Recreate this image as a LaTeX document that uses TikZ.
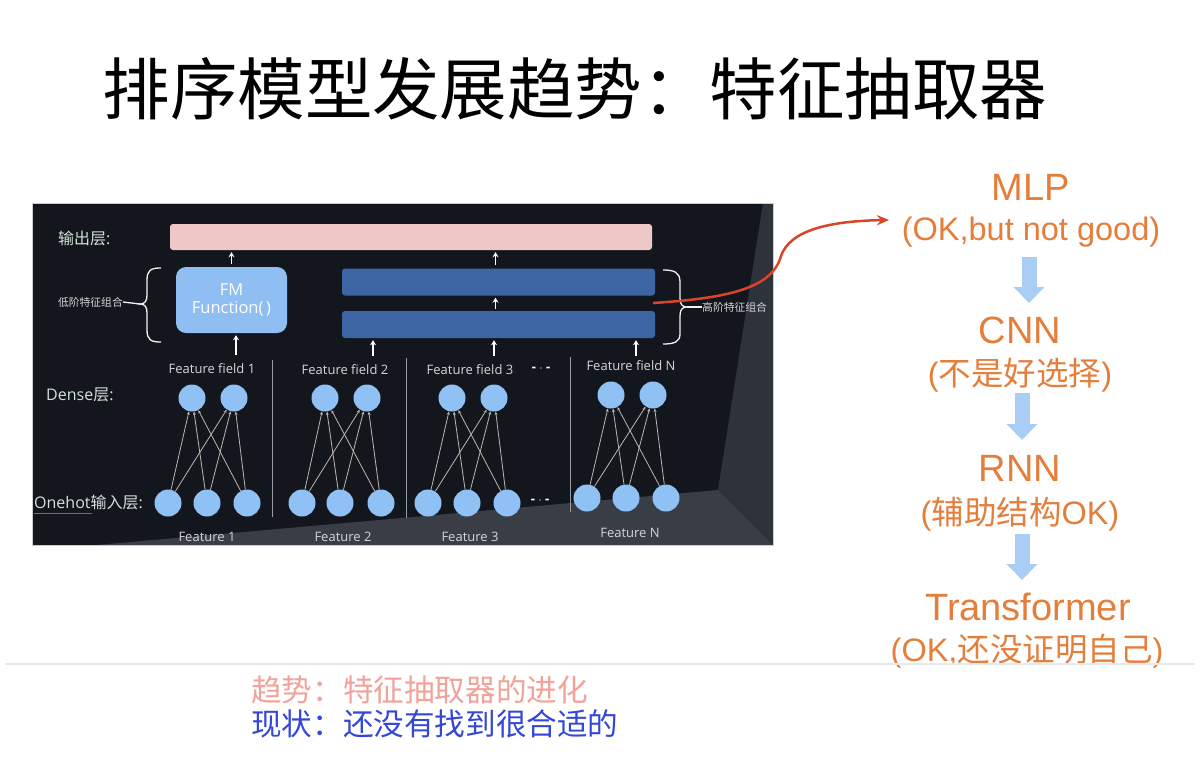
\documentclass[tikz,border=0pt]{standalone}
\usepackage{fontspec}
\setmainfont{Liberation Sans}
\newfontfamily\cjk{Noto Sans CJK SC}
\newfontfamily\pnl{Open Sans}
\usetikzlibrary{arrows.meta,decorations.pathreplacing}
\newcommand\fsz[1]{\fontsize{#1}{#1}\selectfont}
\newcommand\cj[1]{{\cjk #1}}
\definecolor{panelbk}{HTML}{13171D}
\definecolor{wallc}{HTML}{2D323B}
\definecolor{floorc}{HTML}{393D45}
\definecolor{pinkbar}{HTML}{EEC8C6}
\definecolor{fmblue}{HTML}{8EBEF2}
\definecolor{hblue}{HTML}{3B66A3}
\definecolor{neuronc}{HTML}{8FC1F4}
\definecolor{netc}{HTML}{BDB6AE}
\definecolor{lblc}{HTML}{D3E2DA}
\definecolor{featc}{HTML}{D4D6D8}
\definecolor{sepc}{HTML}{9A9C9F}
\definecolor{redc}{HTML}{D8452A}
\definecolor{orangec}{HTML}{E67E3B}
\definecolor{arrblue}{HTML}{A9CDF4}
\definecolor{pinktxt}{HTML}{F1A39B}
\definecolor{bluetxt}{HTML}{3347D9}
\definecolor{rulec}{HTML}{E6EAEC}
\tikzset{
  titlestyle/.style={font=\cjk\fsz{67.5}, text=black, inner sep=0pt},
  bigtxt/.style={font=\fsz{38}, text=orangec, inner sep=0pt},
  subtxt/.style={font=\fsz{32.5}, text=orangec, inner sep=0pt},
  barrow/.style={draw=arrblue, line width=15pt, -{Triangle[width=30pt,length=16pt]}},
  outbar/.style={fill=pinkbar, rounded corners=3pt, minimum width=482pt, minimum height=26pt, inner sep=0pt},
  fmbox/.style={fill=fmblue, rounded corners=10pt, minimum width=111pt, minimum height=66pt, inner sep=0pt, align=center, text=white, font=\pnl\fsz{16.5}},
  hbar/.style={fill=hblue, rounded corners=3pt, minimum width=313pt, minimum height=27pt, inner sep=0pt},
  warr/.style={draw=white, line width=1.3pt, -{Stealth[length=5pt,width=6pt]}},
  neuron/.style={circle, fill=neuronc, minimum size=27pt, inner sep=0pt},
  net/.style={draw=netc, line width=0.8pt, -{Stealth[length=3.5pt,width=3pt]}},
  plbl/.style={text=lblc, inner sep=0pt, anchor=west, font=\fsz{16}},
  featlbl/.style={text=featc, inner sep=1pt, font=\pnl\fsz{13}},
  dotlbl/.style={text=white, inner sep=1pt, font=\pnl\bfseries\fsz{13}},
  sepline/.style={draw=sepc, line width=0.8pt},
  brc/.style={draw=white!90!gray, line width=1.3pt},
  smalllbl/.style={text=featc, inner sep=0pt, font=\cjk\fsz{10.8}},
  redcurve/.style={draw=redc, line width=2.5pt, -{Stealth[length=12pt,width=10pt]}},
  bottxt/.style={font=\cjk\fsz{30.6}, inner sep=0pt, anchor=west}
}
\begin{document}
\begin{tikzpicture}[x=1pt,y=-1pt]
\useasboundingbox (0,0) rectangle (1200,758);
\fill[white] (0,0) rectangle (1200,758);

% title
\node[titlestyle] (ttl) at (575,89) {排序模型发展趋势：特征抽取器};

% panel background (room perspective)
\fill[panelbk] (32,203) rectangle (773,545);
\fill[wallc] (763,203) -- (773,203) -- (773,545) -- (718,490) -- cycle;
\fill[floorc] (97,545) -- (718,490) -- (773,545) -- cycle;
\draw[gray!40, line width=0.6pt] (32,203) rectangle (773,545);

% output bar, FM box, high-order bars
\node[outbar] (out) at (411,237) {};
\node[fmbox] (fm) at (231.5,300) {FM\\[1pt]Function(\,)};
\node[hbar] (hb1) at (498.5,282) {};
\node[hbar] (hb2) at (498.5,324.5) {};

% layer labels
\node[plbl] (lout) at (58,238) {\cj{输出层}\pnl:};
\node[plbl] (ldense) at (46,395) {\pnl Dense\cj{层}:};
\node[plbl] (lone) at (34,502) {\pnl Onehot\cj{输入层}:};
\draw[redc, line width=0.8pt] (34,513) -- (92,513);

% white arrows
\draw[warr] ([yshift=3pt]fm.north) -- ([yshift=-2pt]fm.north |- out.south);
\draw[warr] ([yshift=3pt,xshift=-3pt]hb1.north) -- ([yshift=-2pt,xshift=-3pt]hb1.north |- out.south);
\draw[warr] ([yshift=2pt,xshift=-3pt]hb2.north) -- ([yshift=-2pt,xshift=-3pt]hb2.north |- hb1.south);

% feature field labels
\node[featlbl] (ff1) at (212,369) {Feature field 1};
\node[featlbl] (ff2) at (345,370) {Feature field 2};
\node[featlbl] (ff3) at (470,370) {Feature field 3};
\node[dotlbl] (ffd) at (541,369) {- $\cdot$ -};
\node[featlbl] (ffN) at (631,366) {Feature field N};

\coordinate (ua1) at (236,355);
\coordinate (ua2) at (373,356);
\coordinate (ua3) at (494,356);
\coordinate (ua4) at (636,356);
\draw[warr, shorten >=2pt] (ua1) -- (ua1 |- fm.south);
\draw[warr, shorten >=2pt] (ua2) -- (ua2 |- hb2.south);
\draw[warr, shorten >=2pt] (ua3) -- (ua3 |- hb2.south);
\draw[warr, shorten >=2pt] (ua4) -- (ua4 |- hb2.south);

% separators
\draw[sepline] (272,360) -- (272,517);
\draw[sepline] (406,358) -- (406,518);
\draw[sepline] (570,357) -- (570,512);

% neurons
\node[neuron] (d11) at (192,398) {};
\node[neuron] (d12) at (234,398) {};
\node[neuron] (d21) at (325,398) {};
\node[neuron] (d22) at (367,398) {};
\node[neuron] (d31) at (452,398) {};
\node[neuron] (d32) at (494,398) {};
\node[neuron] (d41) at (611,395) {};
\node[neuron] (d42) at (653,395) {};

\node[neuron] (o11) at (168,503) {};
\node[neuron] (o12) at (207,503) {};
\node[neuron] (o13) at (247,503) {};
\node[neuron] (o21) at (302,503) {};
\node[neuron] (o22) at (340,503) {};
\node[neuron] (o23) at (381,503) {};
\node[neuron] (o31) at (428,503) {};
\node[neuron] (o32) at (467,503) {};
\node[neuron] (o33) at (507,503) {};
\node[neuron] (o41) at (587,498) {};
\node[neuron] (o42) at (626,498) {};
\node[neuron] (o43) at (666,498) {};

\foreach \g in {1,2,3,4}{
  \foreach \b in {1,2,3}{
    \foreach \t in {1,2}{
      \draw[net] (o\g\b) -- (d\g\t);
    }
  }
}
\node[dotlbl] (odots) at (540,501) {- $\cdot$ -};

% feature labels
\node[featlbl] (f1) at (207,537) {Feature 1};
\node[featlbl] (f2) at (343,537) {Feature 2};
\node[featlbl] (f3) at (470,537) {Feature 3};
\node[featlbl] (fN) at (630,533) {Feature N};

% braces
\coordinate (ltip) at (140,304);
\draw[brc] (161,268) .. controls (151,268) and (147,270) .. (147,280) -- (147,295)
  .. controls (147,301) and (145,304) .. (ltip)
  .. controls (145,304) and (147,307) .. (147,313) -- (147,330)
  .. controls (147,340) and (151,342) .. (161,342);
\node[smalllbl, anchor=east] (lowl) at (123,302) {低阶特征组合};
\draw[brc] (lowl.east) -- (ltip);

\coordinate (rtip) at (687,307);
\draw[brc] (663,270) .. controls (674,270) and (680,272) .. (680,282) -- (680,298)
  .. controls (680,304) and (682,307) .. (rtip)
  .. controls (682,307) and (680,310) .. (680,316) -- (680,334)
  .. controls (680,342) and (674,344) .. (663,344);
\node[smalllbl, anchor=west] (highl) at (702,307) {高阶特征组合};
\draw[brc] (rtip) -- (highl.west);

% right column
\node[bigtxt] (mlp) at (1031,187) {MLP};
\node[subtxt] (mlps) at (1031,232) {(OK,but not good)};
\node[bigtxt] (cnn) at (1020,330) {CNN};
\node[subtxt] (cnns) at (1020,375) {(\cj{不是好选择})};
\node[bigtxt] (rnn) at (1020,468) {RNN};
\node[subtxt] (rnns) at (1020,514) {(\cj{辅助结构}OK)};
\node[bigtxt] (trf) at (1028,607) {Transformer};
\node[subtxt] (trfs) at (1027,651) {(OK,\cj{还没证明自己})};

\coordinate (a1s) at (1029,257); \coordinate (a1e) at (1029,303);
\coordinate (a2s) at (1022,393); \coordinate (a2e) at (1022,440);
\coordinate (a3s) at (1022,534); \coordinate (a3e) at (1022,580);
\draw[barrow] (a1s) -- (a1e);
\draw[barrow] (a2s) -- (a2e);
\draw[barrow] (a3s) -- (a3e);

% red curve
\coordinate (rc0) at (653,303);
\coordinate (rc1) at (889,220);
\draw[redcurve] (rc0) .. controls (730,298) and (772,288) .. (781,256)
  .. controls (790,230) and (830,221) .. (rc1);

% bottom rule and texts
\draw[rulec, line width=1.5pt] (5,664) -- (1195,664);
\node[bottxt, text=pinktxt] (bt1) at (251,690) {趋势：特征抽取器的进化};
\node[bottxt, text=bluetxt] (bt2) at (251,724) {现状：还没有找到很合适的};
\end{tikzpicture}
\end{document}
